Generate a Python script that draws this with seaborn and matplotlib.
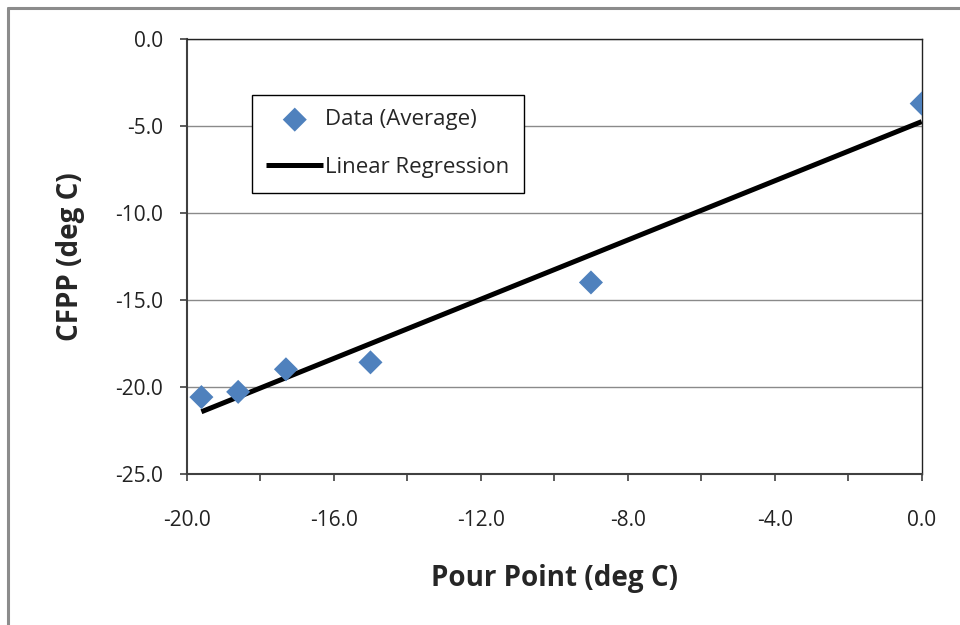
import numpy as np
import pandas as pd
import matplotlib
matplotlib.use("Agg")
import matplotlib.pyplot as plt
import seaborn as sns
from matplotlib.lines import Line2D
from matplotlib.ticker import MultipleLocator, FormatStrFormatter

# data
pour_point = [-19.6, -18.6, -17.3, -15.0, -9.0, 0.0]
cfpp = [-20.6, -20.3, -19.0, -18.6, -14.0, -3.7]

df = pd.DataFrame({"Pour Point": pour_point, "CFPP": cfpp})

sns.set_style("white")
plt.rcParams["font.family"] = ["Open Sans", "DejaVu Sans"]

fig = plt.figure(figsize=(9.6, 6.25), dpi=100)
ax = fig.add_axes([0.1945, 0.2424, 0.7656, 0.6947])

# regression line over the data range
sns.regplot(data=df, x="Pour Point", y="CFPP", scatter=False, ci=None, truncate=True,
            color="black", line_kws={"linewidth": 3.6, "solid_capstyle": "butt"},
            label="Linear Regression", ax=ax)
sns.scatterplot(data=df, x="Pour Point", y="CFPP", marker="D", s=150, color="#4F81BD",
                edgecolor="none", label="Data (Average)", ax=ax, zorder=4)

ax.set_xlim(-20, 0)
ax.set_ylim(-25, 0)
ax.xaxis.set_major_locator(MultipleLocator(4))
ax.xaxis.set_minor_locator(MultipleLocator(2))
ax.yaxis.set_major_locator(MultipleLocator(5))
ax.xaxis.set_major_formatter(FormatStrFormatter("%.1f"))
ax.yaxis.set_major_formatter(FormatStrFormatter("%.1f"))

ax.grid(axis="y", color="#8a8a8a", linewidth=1.0)
ax.set_axisbelow(True)

ax.tick_params(axis="both", which="both", direction="out", length=5, width=1.2,
               color="#404040", labelsize=15, labelcolor="#222222")
ax.tick_params(axis="x", which="both", bottom=True, pad=21)
ax.tick_params(axis="y", left=True, pad=12)

for side in ["left", "bottom"]:
    ax.spines[side].set_color("#404040")
    ax.spines[side].set_linewidth(1.5)
for side in ["top", "right"]:
    ax.spines[side].set_color("#222222")
    ax.spines[side].set_linewidth(1.0)

ax.set_xlabel("Pour Point (deg C)", fontsize=20, fontweight="bold", labelpad=24)
ax.set_ylabel("CFPP (deg C)", fontsize=20, fontweight="bold", labelpad=22)

handles, labels = ax.get_legend_handles_labels()
order = [labels.index("Data (Average)"), labels.index("Linear Regression")]
leg = ax.legend([handles[i] for i in order], [labels[i] for i in order],
                loc="upper left", bbox_to_anchor=(0.0888, 0.8717), borderaxespad=0,
                fontsize=16, frameon=True, fancybox=False, edgecolor="black",
                framealpha=1, handlelength=2.55, handletextpad=0.1,
                labelspacing=1.2, borderpad=0.65)
leg.get_frame().set_linewidth(1.0)

# outer chart border (top and left only, the rest is cropped)
fig.add_artist(Line2D([8 / 960, 1], [1 - 8 / 625, 1 - 8 / 625], transform=fig.transFigure,
                      color="#8c8c8c", linewidth=2.2))
fig.add_artist(Line2D([8 / 960, 8 / 960], [0, 1 - 8 / 625], transform=fig.transFigure,
                      color="#8c8c8c", linewidth=2.2))

fig.savefig("out.png", dpi=100)
